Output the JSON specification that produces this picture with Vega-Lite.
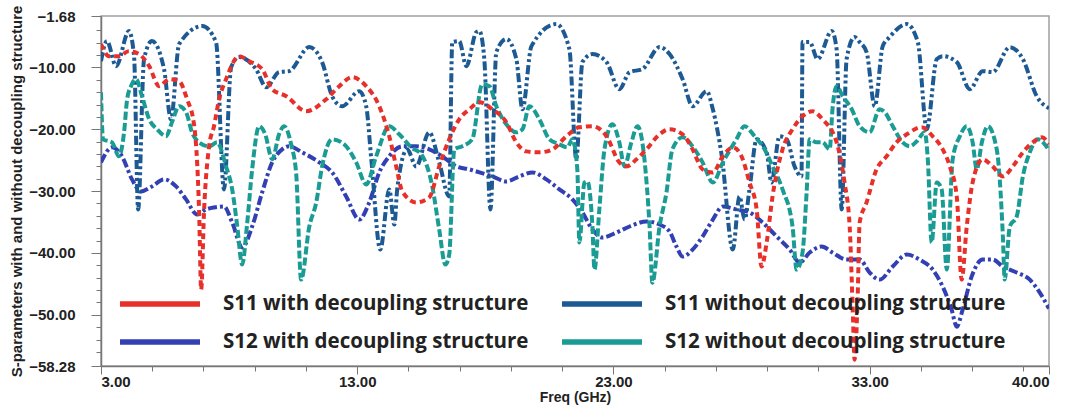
{
  "$schema": "https://vega.github.io/schema/vega-lite/v6.json",
  "width": 948,
  "height": 350,
  "autosize": "none",
  "padding": {"left": 101, "top": 16, "right": 23, "bottom": 39},
  "background": "white",
  "config": {
    "view": {"stroke": "#a0a0a0", "strokeWidth": 1.5},
    "axis": {"labelFont": "Liberation Sans", "titleFont": "Liberation Sans", "labelColor": "#222", "titleColor": "#222", "domainColor": "#777", "tickColor": "#777", "domainWidth": 1.5, "labelFontWeight": "bold", "titleFontWeight": "bold", "grid": false}
  },
  "data": {"values": [
    {"s":"S11 without","f":3.00,"v":-8.98},{"s":"S11 without","f":3.23,"v":-5.74},{"s":"S11 without","f":3.59,"v":-9.79},{"s":"S11 without","f":4.09,"v":-4.12},{"s":"S11 without","f":4.29,"v":-8.17},{"s":"S11 without","f":4.45,"v":-32.96},{"s":"S11 without","f":4.68,"v":-8.65},{"s":"S11 without","f":4.99,"v":-5.74},{"s":"S11 without","f":5.46,"v":-10.27},{"s":"S11 without","f":5.73,"v":-18.38},{"s":"S11 without","f":6.05,"v":-6.22},{"s":"S11 without","f":6.95,"v":-3.31},{"s":"S11 without","f":7.49,"v":-5.90},{"s":"S11 without","f":7.80,"v":-29.72},{"s":"S11 without","f":8.08,"v":-9.95},{"s":"S11 without","f":8.39,"v":-8.33},{"s":"S11 without","f":9.05,"v":-10.27},{"s":"S11 without","f":9.45,"v":-13.19},{"s":"S11 without","f":9.95,"v":-10.76},{"s":"S11 without","f":10.34,"v":-10.60},{"s":"S11 without","f":11.13,"v":-6.71},{"s":"S11 without","f":11.63,"v":-9.14},{"s":"S11 without","f":12.02,"v":-14.65},{"s":"S11 without","f":12.41,"v":-16.27},{"s":"S11 without","f":13.08,"v":-13.84},{"s":"S11 without","f":13.35,"v":-16.27},{"s":"S11 without","f":13.55,"v":-24.86},{"s":"S11 without","f":13.90,"v":-39.45},{"s":"S11 without","f":14.25,"v":-29.72},{"s":"S11 without","f":14.45,"v":-35.40},{"s":"S11 without","f":14.56,"v":-29.72},{"s":"S11 without","f":14.95,"v":-23.24},{"s":"S11 without","f":15.30,"v":-26.00},{"s":"S11 without","f":15.81,"v":-20.49},{"s":"S11 without","f":16.20,"v":-25.35},{"s":"S11 without","f":16.59,"v":-30.86},{"s":"S11 without","f":16.71,"v":-5.90},{"s":"S11 without","f":16.98,"v":-5.74},{"s":"S11 without","f":17.26,"v":-9.79},{"s":"S11 without","f":17.65,"v":-4.28},{"s":"S11 without","f":17.77,"v":-4.12},{"s":"S11 without","f":17.96,"v":-8.65},{"s":"S11 without","f":18.20,"v":-32.96},{"s":"S11 without","f":18.43,"v":-7.52},{"s":"S11 without","f":18.82,"v":-5.41},{"s":"S11 without","f":19.21,"v":-8.65},{"s":"S11 without","f":19.45,"v":-16.76},{"s":"S11 without","f":19.80,"v":-6.55},{"s":"S11 without","f":20.77,"v":-2.98},{"s":"S11 without","f":21.28,"v":-7.03},{"s":"S11 without","f":21.55,"v":-24.86},{"s":"S11 without","f":21.79,"v":-9.14},{"s":"S11 without","f":22.18,"v":-7.84},{"s":"S11 without","f":22.73,"v":-9.14},{"s":"S11 without","f":23.23,"v":-13.52},{"s":"S11 without","f":23.63,"v":-10.76},{"s":"S11 without","f":24.13,"v":-10.27},{"s":"S11 without","f":24.80,"v":-6.71},{"s":"S11 without","f":25.19,"v":-7.84},{"s":"S11 without","f":25.70,"v":-11.90},{"s":"S11 without","f":26.09,"v":-16.27},{"s":"S11 without","f":26.64,"v":-13.84},{"s":"S11 without","f":26.88,"v":-16.76},{"s":"S11 without","f":27.23,"v":-24.37},{"s":"S11 without","f":27.66,"v":-39.45},{"s":"S11 without","f":27.92,"v":-30.86},{"s":"S11 without","f":28.12,"v":-34.59},{"s":"S11 without","f":28.31,"v":-29.72},{"s":"S11 without","f":28.59,"v":-21.62},{"s":"S11 without","f":28.98,"v":-23.73},{"s":"S11 without","f":29.17,"v":-28.59},{"s":"S11 without","f":29.48,"v":-21.13},{"s":"S11 without","f":29.76,"v":-21.62},{"s":"S11 without","f":30.07,"v":-26.00},{"s":"S11 without","f":30.34,"v":-27.62},{"s":"S11 without","f":30.38,"v":-5.90},{"s":"S11 without","f":30.66,"v":-5.90},{"s":"S11 without","f":30.97,"v":-8.65},{"s":"S11 without","f":31.52,"v":-4.12},{"s":"S11 without","f":31.71,"v":-7.03},{"s":"S11 without","f":31.91,"v":-32.96},{"s":"S11 without","f":32.10,"v":-8.65},{"s":"S11 without","f":32.41,"v":-5.09},{"s":"S11 without","f":32.61,"v":-5.90},{"s":"S11 without","f":32.88,"v":-7.52},{"s":"S11 without","f":33.20,"v":-16.27},{"s":"S11 without","f":33.51,"v":-6.55},{"s":"S11 without","f":33.78,"v":-5.09},{"s":"S11 without","f":34.45,"v":-2.98},{"s":"S11 without","f":34.88,"v":-5.90},{"s":"S11 without","f":35.23,"v":-20.00},{"s":"S11 without","f":35.62,"v":-8.65},{"s":"S11 without","f":35.85,"v":-8.17},{"s":"S11 without","f":36.40,"v":-9.14},{"s":"S11 without","f":36.91,"v":-13.52},{"s":"S11 without","f":37.41,"v":-10.60},{"s":"S11 without","f":37.80,"v":-10.76},{"s":"S11 without","f":38.47,"v":-6.71},{"s":"S11 without","f":38.98,"v":-8.65},{"s":"S11 without","f":39.52,"v":-14.65},{"s":"S11 without","f":40.00,"v":-16.60},

    {"s":"S11 with","f":3.00,"v":-6.22},{"s":"S11 with","f":3.31,"v":-8.17},{"s":"S11 with","f":3.70,"v":-8.17},{"s":"S11 with","f":4.09,"v":-7.36},{"s":"S11 with","f":4.48,"v":-7.84},{"s":"S11 with","f":4.88,"v":-9.79},{"s":"S11 with","f":5.27,"v":-13.03},{"s":"S11 with","f":5.66,"v":-11.90},{"s":"S11 with","f":6.05,"v":-12.22},{"s":"S11 with","f":6.36,"v":-15.14},{"s":"S11 with","f":6.63,"v":-19.19},{"s":"S11 with","f":6.83,"v":-33.45},{"s":"S11 with","f":6.91,"v":-45.93},{"s":"S11 with","f":7.02,"v":-33.45},{"s":"S11 with","f":7.22,"v":-22.75},{"s":"S11 with","f":7.41,"v":-19.51},{"s":"S11 with","f":7.61,"v":-15.14},{"s":"S11 with","f":7.88,"v":-11.90},{"s":"S11 with","f":8.39,"v":-8.17},{"s":"S11 with","f":8.78,"v":-8.98},{"s":"S11 with","f":9.29,"v":-10.27},{"s":"S11 with","f":9.68,"v":-13.52},{"s":"S11 with","f":10.23,"v":-14.65},{"s":"S11 with","f":11.01,"v":-17.08},{"s":"S11 with","f":11.79,"v":-15.14},{"s":"S11 with","f":12.30,"v":-13.03},{"s":"S11 with","f":12.80,"v":-11.57},{"s":"S11 with","f":13.35,"v":-13.03},{"s":"S11 with","f":13.86,"v":-16.27},{"s":"S11 with","f":14.25,"v":-21.13},{"s":"S11 with","f":14.52,"v":-26.00},{"s":"S11 with","f":14.76,"v":-30.05},{"s":"S11 with","f":15.30,"v":-31.83},{"s":"S11 with","f":15.81,"v":-31.02},{"s":"S11 with","f":16.20,"v":-26.00},{"s":"S11 with","f":16.59,"v":-21.62},{"s":"S11 with","f":16.98,"v":-18.38},{"s":"S11 with","f":17.38,"v":-16.76},{"s":"S11 with","f":17.77,"v":-15.62},{"s":"S11 with","f":18.27,"v":-16.76},{"s":"S11 with","f":18.82,"v":-18.86},{"s":"S11 with","f":19.21,"v":-22.11},{"s":"S11 with","f":19.60,"v":-23.57},{"s":"S11 with","f":20.11,"v":-23.73},{"s":"S11 with","f":20.62,"v":-23.24},{"s":"S11 with","f":21.16,"v":-21.13},{"s":"S11 with","f":21.67,"v":-19.67},{"s":"S11 with","f":22.18,"v":-19.51},{"s":"S11 with","f":22.73,"v":-21.13},{"s":"S11 with","f":23.23,"v":-25.35},{"s":"S11 with","f":23.51,"v":-26.00},{"s":"S11 with","f":23.90,"v":-24.86},{"s":"S11 with","f":24.29,"v":-23.24},{"s":"S11 with","f":24.80,"v":-20.81},{"s":"S11 with","f":25.19,"v":-20.00},{"s":"S11 with","f":25.70,"v":-20.81},{"s":"S11 with","f":26.09,"v":-23.24},{"s":"S11 with","f":26.48,"v":-26.48},{"s":"S11 with","f":26.88,"v":-26.97},{"s":"S11 with","f":27.27,"v":-24.37},{"s":"S11 with","f":27.66,"v":-22.92},{"s":"S11 with","f":28.00,"v":-24.37},{"s":"S11 with","f":28.31,"v":-28.59},{"s":"S11 with","f":28.59,"v":-32.96},{"s":"S11 with","f":28.78,"v":-42.20},{"s":"S11 with","f":28.98,"v":-38.31},{"s":"S11 with","f":29.21,"v":-30.86},{"s":"S11 with","f":29.60,"v":-23.24},{"s":"S11 with","f":29.99,"v":-20.00},{"s":"S11 with","f":30.38,"v":-17.89},{"s":"S11 with","f":30.77,"v":-17.08},{"s":"S11 with","f":31.16,"v":-18.38},{"s":"S11 with","f":31.71,"v":-22.11},{"s":"S11 with","f":32.02,"v":-28.59},{"s":"S11 with","f":32.22,"v":-35.72},{"s":"S11 with","f":32.34,"v":-49.17},{"s":"S11 with","f":32.41,"v":-57.27},{"s":"S11 with","f":32.53,"v":-47.55},{"s":"S11 with","f":32.61,"v":-35.07},{"s":"S11 with","f":32.88,"v":-31.83},{"s":"S11 with","f":33.27,"v":-26.48},{"s":"S11 with","f":33.66,"v":-24.37},{"s":"S11 with","f":34.05,"v":-22.11},{"s":"S11 with","f":34.45,"v":-20.81},{"s":"S11 with","f":35.03,"v":-19.67},{"s":"S11 with","f":35.46,"v":-21.13},{"s":"S11 with","f":35.85,"v":-23.24},{"s":"S11 with","f":36.13,"v":-26.00},{"s":"S11 with","f":36.40,"v":-30.86},{"s":"S11 with","f":36.59,"v":-44.31},{"s":"S11 with","f":36.79,"v":-35.72},{"s":"S11 with","f":37.02,"v":-28.59},{"s":"S11 with","f":37.41,"v":-24.86},{"s":"S11 with","f":37.80,"v":-26.00},{"s":"S11 with","f":38.20,"v":-27.62},{"s":"S11 with","f":38.59,"v":-26.00},{"s":"S11 with","f":38.98,"v":-23.73},{"s":"S11 with","f":39.37,"v":-22.11},{"s":"S11 with","f":39.72,"v":-21.30},{"s":"S11 with","f":40.00,"v":-22.40},

    {"s":"S12 with","f":3.00,"v":-25.35},{"s":"S12 with","f":3.43,"v":-22.92},{"s":"S12 with","f":3.82,"v":-24.37},{"s":"S12 with","f":4.21,"v":-28.10},{"s":"S12 with","f":4.56,"v":-30.05},{"s":"S12 with","f":4.99,"v":-29.24},{"s":"S12 with","f":5.46,"v":-28.10},{"s":"S12 with","f":5.93,"v":-29.24},{"s":"S12 with","f":6.32,"v":-31.34},{"s":"S12 with","f":6.75,"v":-33.77},{"s":"S12 with","f":7.10,"v":-32.96},{"s":"S12 with","f":7.41,"v":-32.64},{"s":"S12 with","f":7.80,"v":-32.48},{"s":"S12 with","f":8.12,"v":-35.07},{"s":"S12 with","f":8.51,"v":-39.12},{"s":"S12 with","f":8.90,"v":-35.72},{"s":"S12 with","f":9.29,"v":-30.21},{"s":"S12 with","f":9.68,"v":-25.35},{"s":"S12 with","f":10.07,"v":-23.24},{"s":"S12 with","f":10.34,"v":-22.75},{"s":"S12 with","f":10.85,"v":-23.73},{"s":"S12 with","f":11.52,"v":-25.35},{"s":"S12 with","f":12.02,"v":-26.97},{"s":"S12 with","f":12.57,"v":-30.86},{"s":"S12 with","f":13.08,"v":-34.59},{"s":"S12 with","f":13.47,"v":-31.83},{"s":"S12 with","f":13.86,"v":-26.97},{"s":"S12 with","f":14.25,"v":-24.37},{"s":"S12 with","f":14.76,"v":-22.75},{"s":"S12 with","f":15.30,"v":-22.75},{"s":"S12 with","f":15.81,"v":-23.24},{"s":"S12 with","f":16.32,"v":-24.37},{"s":"S12 with","f":16.87,"v":-26.00},{"s":"S12 with","f":17.38,"v":-26.48},{"s":"S12 with","f":17.77,"v":-26.97},{"s":"S12 with","f":18.27,"v":-27.62},{"s":"S12 with","f":18.82,"v":-28.43},{"s":"S12 with","f":19.33,"v":-27.62},{"s":"S12 with","f":19.84,"v":-26.97},{"s":"S12 with","f":20.38,"v":-28.10},{"s":"S12 with","f":20.89,"v":-29.72},{"s":"S12 with","f":21.40,"v":-31.34},{"s":"S12 with","f":21.79,"v":-33.45},{"s":"S12 with","f":22.18,"v":-36.21},{"s":"S12 with","f":22.57,"v":-37.50},{"s":"S12 with","f":23.12,"v":-36.69},{"s":"S12 with","f":23.63,"v":-35.72},{"s":"S12 with","f":24.29,"v":-34.91},{"s":"S12 with","f":24.80,"v":-35.40},{"s":"S12 with","f":25.19,"v":-36.53},{"s":"S12 with","f":25.46,"v":-38.96},{"s":"S12 with","f":25.70,"v":-40.58},{"s":"S12 with","f":26.09,"v":-39.45},{"s":"S12 with","f":26.48,"v":-37.34},{"s":"S12 with","f":26.88,"v":-34.59},{"s":"S12 with","f":27.27,"v":-32.48},{"s":"S12 with","f":27.80,"v":-32.96},{"s":"S12 with","f":28.31,"v":-33.45},{"s":"S12 with","f":28.82,"v":-35.07},{"s":"S12 with","f":29.37,"v":-37.34},{"s":"S12 with","f":29.88,"v":-39.45},{"s":"S12 with","f":30.27,"v":-41.55},{"s":"S12 with","f":30.66,"v":-39.93},{"s":"S12 with","f":31.13,"v":-38.96},{"s":"S12 with","f":31.55,"v":-39.93},{"s":"S12 with","f":32.10,"v":-41.07},{"s":"S12 with","f":32.61,"v":-41.07},{"s":"S12 with","f":33.00,"v":-43.17},{"s":"S12 with","f":33.39,"v":-44.31},{"s":"S12 with","f":33.90,"v":-42.20},{"s":"S12 with","f":34.45,"v":-40.26},{"s":"S12 with","f":34.95,"v":-41.07},{"s":"S12 with","f":35.46,"v":-42.69},{"s":"S12 with","f":35.85,"v":-45.44},{"s":"S12 with","f":36.20,"v":-49.17},{"s":"S12 with","f":36.40,"v":-51.93},{"s":"S12 with","f":36.63,"v":-49.17},{"s":"S12 with","f":36.98,"v":-43.82},{"s":"S12 with","f":37.41,"v":-41.07},{"s":"S12 with","f":37.80,"v":-41.07},{"s":"S12 with","f":38.20,"v":-42.20},{"s":"S12 with","f":38.74,"v":-43.17},{"s":"S12 with","f":39.25,"v":-44.31},{"s":"S12 with","f":39.64,"v":-46.42},{"s":"S12 with","f":40.00,"v":-49.00},

    {"s":"S12 without","f":3.00,"v":-14.00},{"s":"S12 without","f":3.08,"v":-21.62},{"s":"S12 without","f":3.43,"v":-22.11},{"s":"S12 without","f":3.70,"v":-24.37},{"s":"S12 without","f":3.90,"v":-20.49},{"s":"S12 without","f":4.02,"v":-15.14},{"s":"S12 without","f":4.17,"v":-13.03},{"s":"S12 without","f":4.37,"v":-11.90},{"s":"S12 without","f":4.60,"v":-14.65},{"s":"S12 without","f":4.88,"v":-18.38},{"s":"S12 without","f":5.19,"v":-20.00},{"s":"S12 without","f":5.54,"v":-21.13},{"s":"S12 without","f":5.77,"v":-18.86},{"s":"S12 without","f":6.05,"v":-16.27},{"s":"S12 without","f":6.32,"v":-17.24},{"s":"S12 without","f":6.55,"v":-20.49},{"s":"S12 without","f":6.83,"v":-22.11},{"s":"S12 without","f":7.22,"v":-22.75},{"s":"S12 without","f":7.53,"v":-22.11},{"s":"S12 without","f":7.88,"v":-26.00},{"s":"S12 without","f":8.12,"v":-29.72},{"s":"S12 without","f":8.31,"v":-35.40},{"s":"S12 without","f":8.51,"v":-41.88},{"s":"S12 without","f":8.70,"v":-35.40},{"s":"S12 without","f":8.90,"v":-26.48},{"s":"S12 without","f":9.17,"v":-19.51},{"s":"S12 without","f":9.41,"v":-20.81},{"s":"S12 without","f":9.68,"v":-24.86},{"s":"S12 without","f":9.95,"v":-20.81},{"s":"S12 without","f":10.15,"v":-19.51},{"s":"S12 without","f":10.42,"v":-22.43},{"s":"S12 without","f":10.62,"v":-27.29},{"s":"S12 without","f":10.81,"v":-44.31},{"s":"S12 without","f":11.13,"v":-35.72},{"s":"S12 without","f":11.40,"v":-31.83},{"s":"S12 without","f":11.63,"v":-26.00},{"s":"S12 without","f":12.02,"v":-21.62},{"s":"S12 without","f":12.49,"v":-22.43},{"s":"S12 without","f":12.96,"v":-25.35},{"s":"S12 without","f":13.35,"v":-28.91},{"s":"S12 without","f":13.74,"v":-24.37},{"s":"S12 without","f":14.25,"v":-19.51},{"s":"S12 without","f":14.64,"v":-20.81},{"s":"S12 without","f":15.11,"v":-22.92},{"s":"S12 without","f":15.50,"v":-24.05},{"s":"S12 without","f":15.93,"v":-29.24},{"s":"S12 without","f":16.20,"v":-36.21},{"s":"S12 without","f":16.44,"v":-41.88},{"s":"S12 without","f":16.59,"v":-40.26},{"s":"S12 without","f":16.79,"v":-23.24},{"s":"S12 without","f":17.10,"v":-22.75},{"s":"S12 without","f":17.49,"v":-21.62},{"s":"S12 without","f":17.88,"v":-12.71},{"s":"S12 without","f":18.16,"v":-13.03},{"s":"S12 without","f":18.43,"v":-16.27},{"s":"S12 without","f":18.82,"v":-19.19},{"s":"S12 without","f":19.21,"v":-20.49},{"s":"S12 without","f":19.45,"v":-20.00},{"s":"S12 without","f":19.72,"v":-16.27},{"s":"S12 without","f":20.11,"v":-18.38},{"s":"S12 without","f":20.50,"v":-21.62},{"s":"S12 without","f":20.89,"v":-22.43},{"s":"S12 without","f":21.20,"v":-22.92},{"s":"S12 without","f":21.40,"v":-21.62},{"s":"S12 without","f":21.59,"v":-26.48},{"s":"S12 without","f":21.67,"v":-38.31},{"s":"S12 without","f":21.87,"v":-28.59},{"s":"S12 without","f":21.98,"v":-28.43},{"s":"S12 without","f":22.18,"v":-35.72},{"s":"S12 without","f":22.26,"v":-42.69},{"s":"S12 without","f":22.45,"v":-32.96},{"s":"S12 without","f":22.65,"v":-23.24},{"s":"S12 without","f":22.96,"v":-19.19},{"s":"S12 without","f":23.23,"v":-22.11},{"s":"S12 without","f":23.43,"v":-26.00},{"s":"S12 without","f":23.70,"v":-22.11},{"s":"S12 without","f":23.94,"v":-19.51},{"s":"S12 without","f":24.21,"v":-24.86},{"s":"S12 without","f":24.41,"v":-35.72},{"s":"S12 without","f":24.52,"v":-44.80},{"s":"S12 without","f":24.80,"v":-35.72},{"s":"S12 without","f":25.07,"v":-30.21},{"s":"S12 without","f":25.30,"v":-23.24},{"s":"S12 without","f":25.70,"v":-21.30},{"s":"S12 without","f":26.17,"v":-23.24},{"s":"S12 without","f":26.48,"v":-25.35},{"s":"S12 without","f":26.88,"v":-28.59},{"s":"S12 without","f":27.27,"v":-25.35},{"s":"S12 without","f":27.80,"v":-21.62},{"s":"S12 without","f":28.12,"v":-19.51},{"s":"S12 without","f":28.51,"v":-21.13},{"s":"S12 without","f":28.90,"v":-23.24},{"s":"S12 without","f":29.21,"v":-26.00},{"s":"S12 without","f":29.60,"v":-29.72},{"s":"S12 without","f":29.99,"v":-35.72},{"s":"S12 without","f":30.15,"v":-42.69},{"s":"S12 without","f":30.38,"v":-39.93},{"s":"S12 without","f":30.54,"v":-30.21},{"s":"S12 without","f":30.66,"v":-21.62},{"s":"S12 without","f":30.93,"v":-22.11},{"s":"S12 without","f":31.16,"v":-22.11},{"s":"S12 without","f":31.44,"v":-23.24},{"s":"S12 without","f":31.55,"v":-16.76},{"s":"S12 without","f":31.71,"v":-13.03},{"s":"S12 without","f":31.95,"v":-14.65},{"s":"S12 without","f":32.30,"v":-16.76},{"s":"S12 without","f":32.61,"v":-19.51},{"s":"S12 without","f":33.00,"v":-20.49},{"s":"S12 without","f":33.39,"v":-16.76},{"s":"S12 without","f":33.59,"v":-17.24},{"s":"S12 without","f":33.90,"v":-19.51},{"s":"S12 without","f":34.29,"v":-22.11},{"s":"S12 without","f":34.56,"v":-22.75},{"s":"S12 without","f":34.84,"v":-21.94},{"s":"S12 without","f":35.15,"v":-20.49},{"s":"S12 without","f":35.27,"v":-24.86},{"s":"S12 without","f":35.42,"v":-38.31},{"s":"S12 without","f":35.62,"v":-28.59},{"s":"S12 without","f":35.81,"v":-29.72},{"s":"S12 without","f":36.01,"v":-42.69},{"s":"S12 without","f":36.24,"v":-24.86},{"s":"S12 without","f":36.52,"v":-21.13},{"s":"S12 without","f":36.79,"v":-19.51},{"s":"S12 without","f":37.02,"v":-22.11},{"s":"S12 without","f":37.18,"v":-26.48},{"s":"S12 without","f":37.38,"v":-22.11},{"s":"S12 without","f":37.61,"v":-19.51},{"s":"S12 without","f":37.96,"v":-23.24},{"s":"S12 without","f":38.20,"v":-37.34},{"s":"S12 without","f":38.27,"v":-44.31},{"s":"S12 without","f":38.47,"v":-35.72},{"s":"S12 without","f":38.74,"v":-34.10},{"s":"S12 without","f":38.98,"v":-27.62},{"s":"S12 without","f":39.25,"v":-23.73},{"s":"S12 without","f":39.56,"v":-21.62},{"s":"S12 without","f":40.00,"v":-23.40}
  ]},
  "encoding": {
    "x": {"field": "f", "type": "quantitative",
      "scale": {"domain": [3, 40], "nice": false, "zero": false},
      "axis": {"title": "Freq (GHz)", "titleFontSize": 14, "titlePadding": 1, "labelFontSize": 15, "labelPadding": 0, "tickSize": {"condition": {"test": "indexof([3,13,23,33,40], datum.value) >= 0", "value": 8}, "value": 5},
        "values": [3,5,7,9,11,13,15,17,19,21,23,25,27,29,31,33,35,37,39,40],
        "labelExpr": "indexof([3,13,23,33,40], datum.value) >= 0 ? format(datum.value, '.2f') : ''"}},
    "y": {"field": "v", "type": "quantitative",
      "scale": {"domain": [-58.28, -1.68], "nice": false, "zero": false},
      "axis": {"title": "S-parameters with and without decoupling structure", "titleFontSize": 15, "titlePadding": 4, "labelFontSize": 15, "labelPadding": 16, "tickSize": {"condition": {"test": "indexof([-1.68,-10,-20,-30,-40,-50,-58.28], datum.value) >= 0", "value": 10}, "value": 5},
        "values": [-1.68,-4,-6,-8,-10,-12,-14,-16,-18,-20,-22,-24,-26,-28,-30,-32,-34,-36,-38,-40,-42,-44,-46,-48,-50,-52,-54,-56,-58.28],
        "labelExpr": "indexof([-1.68,-10,-20,-30,-40,-50,-58.28], datum.value) >= 0 ? format(datum.value, '.2f') : ''"}},
    "color": {"field": "s", "type": "nominal",
      "scale": {"domain": ["S11 with", "S12 with", "S11 without", "S12 without"], "range": ["#e8302a", "#3340b4", "#1d5a94", "#1a9c94"]},
      "legend": {"title": null, "orient": "none", "legendX": 16, "legendY": 275, "columns": 2, "symbolType": "M-1,0H7", "symbolStrokeWidth": 5.5, "symbolSize": 400, "symbolDash": [1, 0], "labelFont": "Open Sans", "labelFontWeight": "bold", "labelFontSize": 20.5, "labelColor": "#222", "labelOffset": 80, "labelLimit": 600, "columnPadding": 22, "rowPadding": 14, "padding": 0,
        "labelExpr": "datum.label + ' decoupling structure'"}}
  },
  "layer": [
    {"transform": [{"filter": "datum.s == 'S12 with'"}], "mark": {"type": "line", "strokeWidth": 4, "interpolate": "monotone", "clip": true, "strokeDash": [9, 3, 3, 3]}},
    {"transform": [{"filter": "datum.s == 'S11 without'"}], "mark": {"type": "line", "strokeWidth": 4, "interpolate": "monotone", "clip": true, "strokeDash": [9, 3, 3, 3, 3, 3]}},
    {"transform": [{"filter": "datum.s == 'S12 without'"}], "mark": {"type": "line", "strokeWidth": 4, "interpolate": "monotone", "clip": true, "strokeDash": [8, 3]}},
    {"transform": [{"filter": "datum.s == 'S11 with'"}], "mark": {"type": "line", "strokeWidth": 4, "interpolate": "monotone", "clip": true, "strokeDash": [6, 4]}}
  ]
}
